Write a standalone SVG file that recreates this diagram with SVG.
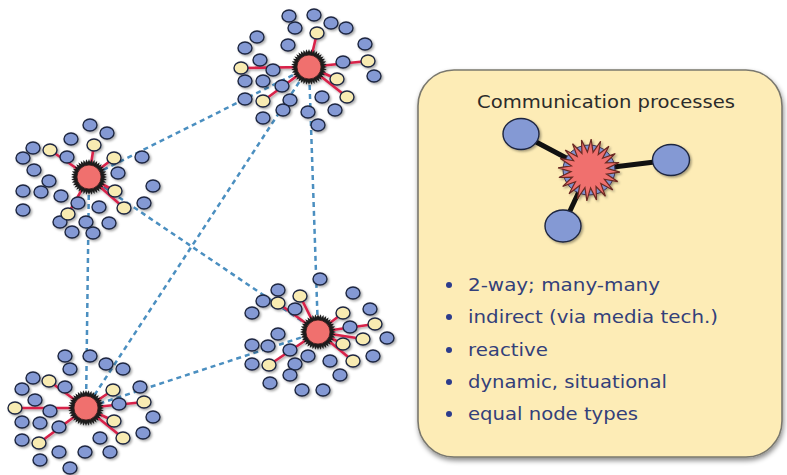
<svg xmlns="http://www.w3.org/2000/svg" xmlns:xlink="http://www.w3.org/1999/xlink" width="787" height="475" viewBox="0 0 787 475">
<style>
.bn{fill:#8499d4;stroke:#1e2640;stroke-width:1.4}
.yn{fill:#f8ebb2;stroke:#1e2640;stroke-width:1.4}
.blue .bn,.yellow .yn{rx:7px;ry:6px}
.sp{stroke:#d8244a;stroke-width:2.6;fill:none}
.dash{stroke:#4b8fc0;stroke-width:2.5;stroke-dasharray:5 4;fill:none}
.blk{stroke:#111;stroke-width:5;fill:none}
.title{font-family:"DejaVu Sans",Verdana,sans-serif;font-size:18px;fill:#2b2b2b}
.bt{font-family:"DejaVu Sans",Verdana,sans-serif;font-size:18.5px;fill:#33407a}
.dot{fill:#2c3c8c}
</style>
<defs>
<filter id="sh" x="-20%" y="-20%" width="140%" height="140%">
<feDropShadow dx="1.5" dy="1.5" stdDeviation="1.2" flood-color="#000" flood-opacity="0.35"/>
</filter>
<filter id="psh" x="-10%" y="-10%" width="120%" height="120%">
<feDropShadow dx="1" dy="3" stdDeviation="2.5" flood-color="#000" flood-opacity="0.45"/>
</filter>
<g id="hub">
<polygon fill="#1c1c1c" points="18,0 12.84,2.03 17.12,5.56 11.58,5.9 14.56,10.58 9.19,9.19 10.58,14.56 5.9,11.58 5.56,17.12 2.03,12.84 0,18 -2.03,12.84 -5.56,17.12 -5.9,11.58 -10.58,14.56 -9.19,9.19 -14.56,10.58 -11.58,5.9 -17.12,5.56 -12.84,2.03 -18,0 -12.84,-2.03 -17.12,-5.56 -11.58,-5.9 -14.56,-10.58 -9.19,-9.19 -10.58,-14.56 -5.9,-11.58 -5.56,-17.12 -2.03,-12.84 0,-18 2.03,-12.84 5.56,-17.12 5.9,-11.58 10.58,-14.56 9.19,-9.19 14.56,-10.58 11.58,-5.9 17.12,-5.56 12.84,-2.03"/>
<polygon fill="#1c1c1c" transform="rotate(9)" points="18,0 12.84,2.03 17.12,5.56 11.58,5.9 14.56,10.58 9.19,9.19 10.58,14.56 5.9,11.58 5.56,17.12 2.03,12.84 0,18 -2.03,12.84 -5.56,17.12 -5.9,11.58 -10.58,14.56 -9.19,9.19 -14.56,10.58 -11.58,5.9 -17.12,5.56 -12.84,2.03 -18,0 -12.84,-2.03 -17.12,-5.56 -11.58,-5.9 -14.56,-10.58 -9.19,-9.19 -10.58,-14.56 -5.9,-11.58 -5.56,-17.12 -2.03,-12.84 0,-18 2.03,-12.84 5.56,-17.12 5.9,-11.58 10.58,-14.56 9.19,-9.19 14.56,-10.58 11.58,-5.9 17.12,-5.56 12.84,-2.03"/>
<circle r="12" fill="#f0706e" stroke="#3a1a1a" stroke-width="0.8"/>
</g>
</defs>

<g id="connectors">
<line class="dash" x1="309" y1="67" x2="89" y2="177"/>
<line class="dash" x1="309" y1="67" x2="318" y2="332"/>
<line class="dash" x1="309" y1="67" x2="86" y2="408"/>
<line class="dash" x1="89" y1="177" x2="318" y2="332"/>
<line class="dash" x1="89" y1="177" x2="86" y2="408"/>
<line class="dash" x1="318" y1="332" x2="86" y2="408"/>
</g>

<g id="clusterA" filter="url(#sh)">
<g class="spokes">
<line class="sp" x1="309" y1="67" x2="317" y2="33"/>
<line class="sp" x1="309" y1="67" x2="241" y2="68"/>
<line class="sp" x1="309" y1="67" x2="368" y2="61"/>
<line class="sp" x1="309" y1="67" x2="337" y2="79"/>
<line class="sp" x1="309" y1="67" x2="347" y2="97"/>
<line class="sp" x1="309" y1="67" x2="263" y2="101"/>
</g>
<g class="blue">
<ellipse class="bn" cx="289" cy="16" rx="6.5" ry="5.5"/>
<ellipse class="bn" cx="314" cy="15" rx="6.5" ry="5.5"/>
<ellipse class="bn" cx="331" cy="23" rx="6.5" ry="5.5"/>
<ellipse class="bn" cx="295" cy="28" rx="6.5" ry="5.5"/>
<ellipse class="bn" cx="346" cy="28" rx="6.5" ry="5.5"/>
<ellipse class="bn" cx="257" cy="37" rx="6.5" ry="5.5"/>
<ellipse class="bn" cx="245" cy="48" rx="6.5" ry="5.5"/>
<ellipse class="bn" cx="288" cy="45" rx="6.5" ry="5.5"/>
<ellipse class="bn" cx="365" cy="44" rx="6.5" ry="5.5"/>
<ellipse class="bn" cx="260" cy="60" rx="6.5" ry="5.5"/>
<ellipse class="bn" cx="273" cy="70" rx="6.5" ry="5.5"/>
<ellipse class="bn" cx="343" cy="62" rx="6.5" ry="5.5"/>
<ellipse class="bn" cx="374" cy="76" rx="6.5" ry="5.5"/>
<ellipse class="bn" cx="245" cy="81" rx="6.5" ry="5.5"/>
<ellipse class="bn" cx="263" cy="81" rx="6.5" ry="5.5"/>
<ellipse class="bn" cx="282" cy="86" rx="6.5" ry="5.5"/>
<ellipse class="bn" cx="245" cy="99" rx="6.5" ry="5.5"/>
<ellipse class="bn" cx="290" cy="100" rx="6.5" ry="5.5"/>
<ellipse class="bn" cx="322" cy="97" rx="6.5" ry="5.5"/>
<ellipse class="bn" cx="283" cy="110" rx="6.5" ry="5.5"/>
<ellipse class="bn" cx="308" cy="112" rx="6.5" ry="5.5"/>
<ellipse class="bn" cx="335" cy="110" rx="6.5" ry="5.5"/>
<ellipse class="bn" cx="263" cy="118" rx="6.5" ry="5.5"/>
<ellipse class="bn" cx="318" cy="125" rx="6.5" ry="5.5"/>
</g>
<g class="yellow">
<ellipse class="yn" cx="317" cy="33" rx="6.5" ry="5.5"/>
<ellipse class="yn" cx="241" cy="68" rx="6.5" ry="5.5"/>
<ellipse class="yn" cx="368" cy="61" rx="6.5" ry="5.5"/>
<ellipse class="yn" cx="337" cy="79" rx="6.5" ry="5.5"/>
<ellipse class="yn" cx="347" cy="97" rx="6.5" ry="5.5"/>
<ellipse class="yn" cx="263" cy="101" rx="6.5" ry="5.5"/>
</g>
<use href="#hub" xlink:href="#hub" x="309" y="67"/>
</g>

<g id="clusterB" filter="url(#sh)">
<g class="spokes">
<line class="sp" x1="89" y1="177" x2="50" y2="150"/>
<line class="sp" x1="89" y1="177" x2="94" y2="145"/>
<line class="sp" x1="89" y1="177" x2="114" y2="158"/>
<line class="sp" x1="89" y1="177" x2="115" y2="191"/>
<line class="sp" x1="89" y1="177" x2="124" y2="208"/>
<line class="sp" x1="89" y1="177" x2="68" y2="214"/>
</g>
<g class="blue">
<ellipse class="bn" cx="90" cy="125" rx="6.5" ry="5.5"/>
<ellipse class="bn" cx="107" cy="133" rx="6.5" ry="5.5"/>
<ellipse class="bn" cx="71" cy="139" rx="6.5" ry="5.5"/>
<ellipse class="bn" cx="33" cy="148" rx="6.5" ry="5.5"/>
<ellipse class="bn" cx="23" cy="158" rx="6.5" ry="5.5"/>
<ellipse class="bn" cx="67" cy="157" rx="6.5" ry="5.5"/>
<ellipse class="bn" cx="34" cy="170" rx="6.5" ry="5.5"/>
<ellipse class="bn" cx="142" cy="157" rx="6.5" ry="5.5"/>
<ellipse class="bn" cx="118" cy="173" rx="6.5" ry="5.5"/>
<ellipse class="bn" cx="49" cy="181" rx="6.5" ry="5.5"/>
<ellipse class="bn" cx="23" cy="191" rx="6.5" ry="5.5"/>
<ellipse class="bn" cx="41" cy="192" rx="6.5" ry="5.5"/>
<ellipse class="bn" cx="61" cy="196" rx="6.5" ry="5.5"/>
<ellipse class="bn" cx="153" cy="186" rx="6.5" ry="5.5"/>
<ellipse class="bn" cx="78" cy="203" rx="6.5" ry="5.5"/>
<ellipse class="bn" cx="99" cy="207" rx="6.5" ry="5.5"/>
<ellipse class="bn" cx="23" cy="210" rx="6.5" ry="5.5"/>
<ellipse class="bn" cx="144" cy="203" rx="6.5" ry="5.5"/>
<ellipse class="bn" cx="60" cy="222" rx="6.5" ry="5.5"/>
<ellipse class="bn" cx="86" cy="222" rx="6.5" ry="5.5"/>
<ellipse class="bn" cx="109" cy="223" rx="6.5" ry="5.5"/>
<ellipse class="bn" cx="72" cy="232" rx="6.5" ry="5.5"/>
<ellipse class="bn" cx="93" cy="233" rx="6.5" ry="5.5"/>
</g>
<g class="yellow">
<ellipse class="yn" cx="50" cy="150" rx="6.5" ry="5.5"/>
<ellipse class="yn" cx="94" cy="145" rx="6.5" ry="5.5"/>
<ellipse class="yn" cx="114" cy="158" rx="6.5" ry="5.5"/>
<ellipse class="yn" cx="115" cy="191" rx="6.5" ry="5.5"/>
<ellipse class="yn" cx="124" cy="208" rx="6.5" ry="5.5"/>
<ellipse class="yn" cx="68" cy="214" rx="6.5" ry="5.5"/>
</g>
<use href="#hub" xlink:href="#hub" x="89" y="177"/>
</g>

<g id="clusterC" filter="url(#sh)">
<g class="spokes">
<line class="sp" x1="318" y1="332" x2="278" y2="303"/>
<line class="sp" x1="318" y1="332" x2="300" y2="296"/>
<line class="sp" x1="318" y1="332" x2="343" y2="313"/>
<line class="sp" x1="318" y1="332" x2="375" y2="324"/>
<line class="sp" x1="318" y1="332" x2="363" y2="339"/>
<line class="sp" x1="318" y1="332" x2="343" y2="344"/>
<line class="sp" x1="318" y1="332" x2="353" y2="361"/>
<line class="sp" x1="318" y1="332" x2="269" y2="365"/>
</g>
<g class="blue">
<ellipse class="bn" cx="320" cy="279" rx="6.5" ry="5.5"/>
<ellipse class="bn" cx="278" cy="290" rx="6.5" ry="5.5"/>
<ellipse class="bn" cx="353" cy="293" rx="6.5" ry="5.5"/>
<ellipse class="bn" cx="263" cy="301" rx="6.5" ry="5.5"/>
<ellipse class="bn" cx="295" cy="309" rx="6.5" ry="5.5"/>
<ellipse class="bn" cx="252" cy="313" rx="6.5" ry="5.5"/>
<ellipse class="bn" cx="370" cy="309" rx="6.5" ry="5.5"/>
<ellipse class="bn" cx="350" cy="327" rx="6.5" ry="5.5"/>
<ellipse class="bn" cx="278" cy="334" rx="6.5" ry="5.5"/>
<ellipse class="bn" cx="387" cy="338" rx="6.5" ry="5.5"/>
<ellipse class="bn" cx="252" cy="345" rx="6.5" ry="5.5"/>
<ellipse class="bn" cx="268" cy="346" rx="6.5" ry="5.5"/>
<ellipse class="bn" cx="290" cy="350" rx="6.5" ry="5.5"/>
<ellipse class="bn" cx="308" cy="356" rx="6.5" ry="5.5"/>
<ellipse class="bn" cx="330" cy="361" rx="6.5" ry="5.5"/>
<ellipse class="bn" cx="373" cy="356" rx="6.5" ry="5.5"/>
<ellipse class="bn" cx="252" cy="364" rx="6.5" ry="5.5"/>
<ellipse class="bn" cx="295" cy="364" rx="6.5" ry="5.5"/>
<ellipse class="bn" cx="290" cy="375" rx="6.5" ry="5.5"/>
<ellipse class="bn" cx="340" cy="375" rx="6.5" ry="5.5"/>
<ellipse class="bn" cx="270" cy="383" rx="6.5" ry="5.5"/>
<ellipse class="bn" cx="302" cy="390" rx="6.5" ry="5.5"/>
<ellipse class="bn" cx="323" cy="390" rx="6.5" ry="5.5"/>
</g>
<g class="yellow">
<ellipse class="yn" cx="278" cy="303" rx="6.5" ry="5.5"/>
<ellipse class="yn" cx="300" cy="296" rx="6.5" ry="5.5"/>
<ellipse class="yn" cx="343" cy="313" rx="6.5" ry="5.5"/>
<ellipse class="yn" cx="375" cy="324" rx="6.5" ry="5.5"/>
<ellipse class="yn" cx="363" cy="339" rx="6.5" ry="5.5"/>
<ellipse class="yn" cx="343" cy="344" rx="6.5" ry="5.5"/>
<ellipse class="yn" cx="353" cy="361" rx="6.5" ry="5.5"/>
<ellipse class="yn" cx="269" cy="365" rx="6.5" ry="5.5"/>
</g>
<use href="#hub" xlink:href="#hub" x="318" y="332"/>
</g>

<g id="clusterD" filter="url(#sh)">
<g class="spokes">
<line class="sp" x1="86" y1="408" x2="49" y2="381"/>
<line class="sp" x1="86" y1="408" x2="113" y2="390"/>
<line class="sp" x1="86" y1="408" x2="144" y2="402"/>
<line class="sp" x1="86" y1="408" x2="15" y2="408"/>
<line class="sp" x1="86" y1="408" x2="114" y2="421"/>
<line class="sp" x1="86" y1="408" x2="123" y2="438"/>
<line class="sp" x1="86" y1="408" x2="39" y2="443"/>
</g>
<g class="blue">
<ellipse class="bn" cx="65" cy="356" rx="6.5" ry="5.5"/>
<ellipse class="bn" cx="90" cy="356" rx="6.5" ry="5.5"/>
<ellipse class="bn" cx="106" cy="364" rx="6.5" ry="5.5"/>
<ellipse class="bn" cx="70" cy="369" rx="6.5" ry="5.5"/>
<ellipse class="bn" cx="123" cy="369" rx="6.5" ry="5.5"/>
<ellipse class="bn" cx="33" cy="378" rx="6.5" ry="5.5"/>
<ellipse class="bn" cx="22" cy="389" rx="6.5" ry="5.5"/>
<ellipse class="bn" cx="65" cy="387" rx="6.5" ry="5.5"/>
<ellipse class="bn" cx="140" cy="387" rx="6.5" ry="5.5"/>
<ellipse class="bn" cx="35" cy="400" rx="6.5" ry="5.5"/>
<ellipse class="bn" cx="119" cy="404" rx="6.5" ry="5.5"/>
<ellipse class="bn" cx="50" cy="411" rx="6.5" ry="5.5"/>
<ellipse class="bn" cx="153" cy="417" rx="6.5" ry="5.5"/>
<ellipse class="bn" cx="22" cy="422" rx="6.5" ry="5.5"/>
<ellipse class="bn" cx="40" cy="423" rx="6.5" ry="5.5"/>
<ellipse class="bn" cx="59" cy="427" rx="6.5" ry="5.5"/>
<ellipse class="bn" cx="143" cy="433" rx="6.5" ry="5.5"/>
<ellipse class="bn" cx="22" cy="440" rx="6.5" ry="5.5"/>
<ellipse class="bn" cx="100" cy="438" rx="6.5" ry="5.5"/>
<ellipse class="bn" cx="59" cy="452" rx="6.5" ry="5.5"/>
<ellipse class="bn" cx="85" cy="452" rx="6.5" ry="5.5"/>
<ellipse class="bn" cx="110" cy="452" rx="6.5" ry="5.5"/>
<ellipse class="bn" cx="40" cy="460" rx="6.5" ry="5.5"/>
<ellipse class="bn" cx="70" cy="468" rx="6.5" ry="5.5"/>
</g>
<g class="yellow">
<ellipse class="yn" cx="49" cy="381" rx="6.5" ry="5.5"/>
<ellipse class="yn" cx="113" cy="390" rx="6.5" ry="5.5"/>
<ellipse class="yn" cx="144" cy="402" rx="6.5" ry="5.5"/>
<ellipse class="yn" cx="15" cy="408" rx="6.5" ry="5.5"/>
<ellipse class="yn" cx="114" cy="421" rx="6.5" ry="5.5"/>
<ellipse class="yn" cx="123" cy="438" rx="6.5" ry="5.5"/>
<ellipse class="yn" cx="39" cy="443" rx="6.5" ry="5.5"/>
</g>
<use href="#hub" xlink:href="#hub" x="86" y="408"/>
</g>

<g id="panel">
<rect x="418" y="70" width="364" height="387" rx="36" ry="36" fill="#fdecb6" stroke="#7a786e" stroke-width="1.6" filter="url(#psh)"/>
<text class="title" x="606" y="108" text-anchor="middle" textLength="258" lengthAdjust="spacingAndGlyphs">Communication processes</text>
<g id="panel-links">
<line class="blk" x1="589" y1="170" x2="521" y2="134"/>
<line class="blk" x1="589" y1="170" x2="671" y2="160"/>
<line class="blk" x1="589" y1="170" x2="563" y2="226"/>
</g>
<g id="panel-nodes" filter="url(#sh)">
<ellipse class="bn" cx="521" cy="134" rx="18" ry="15.5"/>
<ellipse class="bn" cx="671" cy="160" rx="18.5" ry="15.5"/>
<ellipse class="bn" cx="563" cy="226" rx="18" ry="16"/>
<g id="panel-hub">
<ellipse cx="589" cy="170" rx="26" ry="25" fill="#7e8fcc" stroke="#3a3050" stroke-width="1"/>
<polygon transform="translate(589,170) rotate(4)" fill="#f0706e" stroke="#6a2a22" stroke-width="1.2" stroke-linejoin="miter" points="31,0 17.78,2.82 29.48,9.58 16.04,8.17 25.08,18.22 12.73,12.73 18.22,25.08 8.17,16.04 9.58,29.48 2.82,17.78 0,31 -2.82,17.78 -9.58,29.48 -8.17,16.04 -18.22,25.08 -12.73,12.73 -25.08,18.22 -16.04,8.17 -29.48,9.58 -17.78,2.82 -31,0 -17.78,-2.82 -29.48,-9.58 -16.04,-8.17 -25.08,-18.22 -12.73,-12.73 -18.22,-25.08 -8.17,-16.04 -9.58,-29.48 -2.82,-17.78 0,-31 2.82,-17.78 9.58,-29.48 8.17,-16.04 18.22,-25.08 12.73,-12.73 25.08,-18.22 16.04,-8.17 29.48,-9.58 17.78,-2.82"/>
</g>
</g>
<g id="bullets">
<circle class="dot" cx="449" cy="285" r="3"/>
<text class="bt" x="468" y="291" textLength="192" lengthAdjust="spacingAndGlyphs">2-way; many-many</text>
<circle class="dot" cx="449" cy="317" r="3"/>
<text class="bt" x="468" y="323" textLength="250" lengthAdjust="spacingAndGlyphs">indirect (via media tech.)</text>
<circle class="dot" cx="449" cy="350" r="3"/>
<text class="bt" x="468" y="356" textLength="80" lengthAdjust="spacingAndGlyphs">reactive</text>
<circle class="dot" cx="449" cy="382" r="3"/>
<text class="bt" x="468" y="388" textLength="199" lengthAdjust="spacingAndGlyphs">dynamic, situational</text>
<circle class="dot" cx="449" cy="414" r="3"/>
<text class="bt" x="468" y="420" textLength="170" lengthAdjust="spacingAndGlyphs">equal node types</text>
</g>
</g>
</svg>
